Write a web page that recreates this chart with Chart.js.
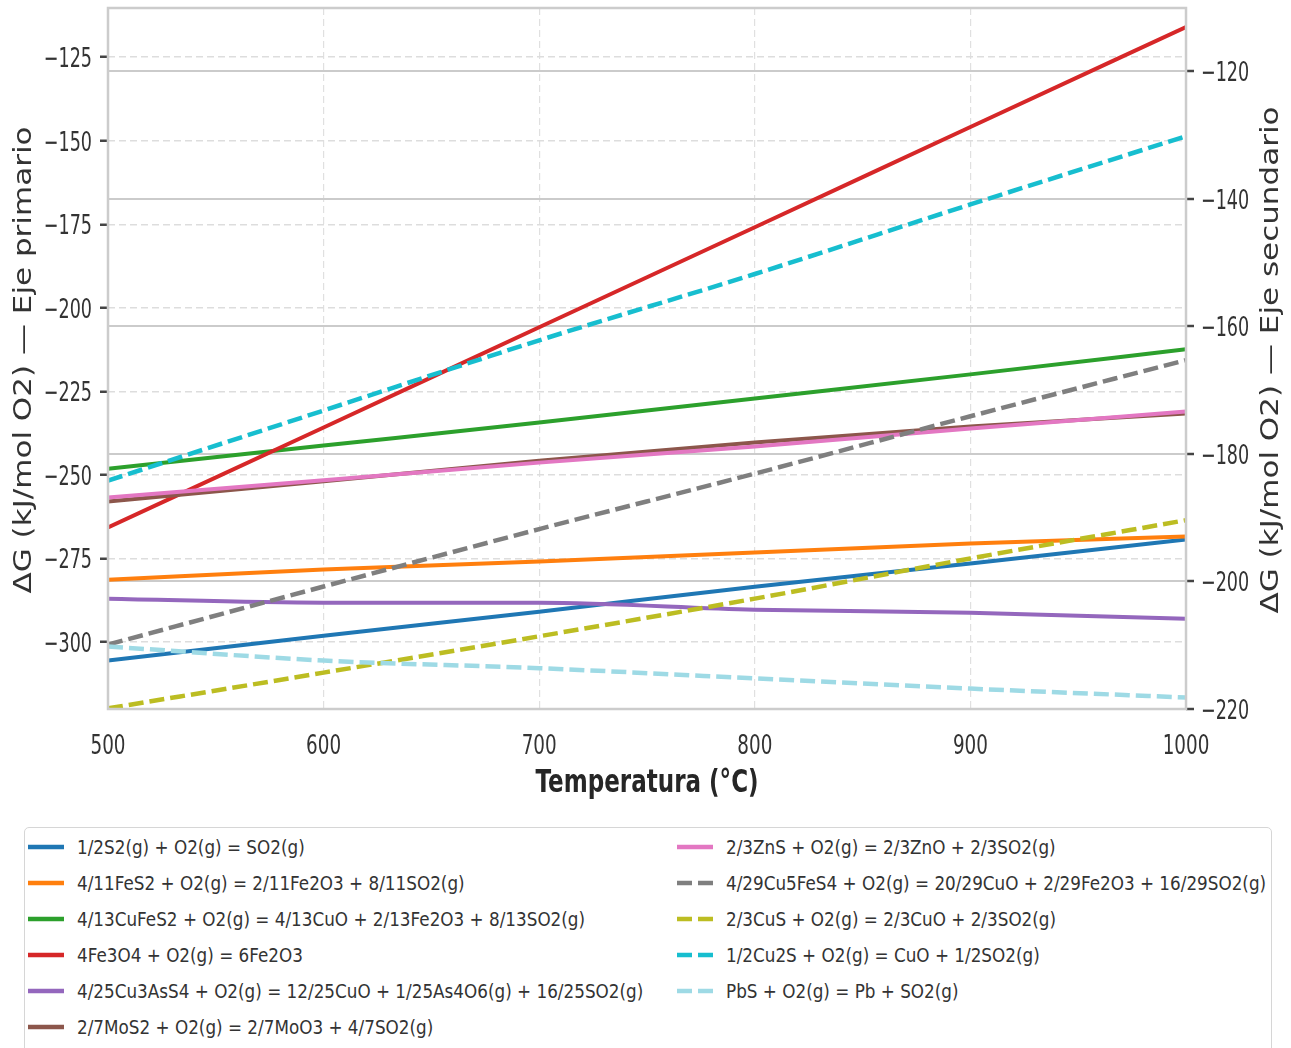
<!DOCTYPE html>
<html lang="es">
<head>
<meta charset="utf-8">
<title>ΔG vs Temperatura</title>
<script src="https://cdn.jsdelivr.net/npm/chart.js@4.4.1/dist/chart.umd.min.js"></script>
<style>
  html, body { margin: 0; padding: 0; background: #fff; }
  #wrap { position: relative; width: 1291px; height: 1048px; overflow: hidden; }
  #myChart { position: absolute; left: 0; top: 0; }
  #legendBox { position: absolute; left: 24px; top: 827px; width: 1248px; height: 300px;
    border: 1.5px solid #d6d6d6; border-radius: 5px; box-sizing: border-box; }
  .item { position: absolute; height: 36px; display: flex; align-items: center;
    font-family: "DejaVu Sans"; font-size: 20px; color: #333; white-space: nowrap; }
  .item svg { flex: none; }
  .item span { margin-left: 13px; display: inline-block; transform: scaleX(0.84); transform-origin: left center; }
</style>
</head>
<body>
<div id="wrap">
  <canvas id="myChart" width="1291" height="815"></canvas>
  <div id="legendBox"></div>
</div>
<script>
// temperatura (°C)
const temperaturas = [500, 600, 700, 800, 900, 1000];
const ticksX = [500, 600, 700, 800, 900, 1000];
const ticksPrim = [-300, -275, -250, -225, -200, -175, -150, -125];
const ticksSec = [-220, -200, -180, -160, -140, -120];

const reacciones = [
  '1/2S2(g) + O2(g) = SO2(g)',
  '4/11FeS2 + O2(g) = 2/11Fe2O3 + 8/11SO2(g)',
  '4/13CuFeS2 + O2(g) = 4/13CuO + 2/13Fe2O3 + 8/13SO2(g)',
  '4Fe3O4 + O2(g) = 6Fe2O3',
  '4/25Cu3AsS4 + O2(g) = 12/25CuO + 1/25As4O6(g) + 16/25SO2(g)',
  '2/7MoS2 + O2(g) = 2/7MoO3 + 4/7SO2(g)',
  '2/3ZnS + O2(g) = 2/3ZnO + 2/3SO2(g)',
  '4/29Cu5FeS4 + O2(g) = 20/29CuO + 2/29Fe2O3 + 16/29SO2(g)',
  '2/3CuS + O2(g) = 2/3CuO + 2/3SO2(g)',
  '1/2Cu2S + O2(g) = CuO + 1/2SO2(g)',
  'PbS + O2(g) = Pb + SO2(g)'
];

// eje primario (kJ/mol O2)
const dgS2      = [-305.5, -298.1, -290.9, -283.4, -276.5, -269.3];
const dgFeS2    = [-281.3, -278.3, -275.9, -273.2, -270.5, -268.4];
const dgCuFeS2  = [-248.1, -241.2, -234.3, -227.1, -219.9, -212.4];
const dgFe3O4   = [-265.7, -235.8, -205.8, -175.9, -145.9, -116.0];
const dgCu3AsS4 = [-287.0, -288.2, -288.2, -290.3, -291.2, -293.0];
const dgMoS2    = [-257.9, -251.9, -245.7, -240.3, -235.5, -231.6];
const dgZnS     = [-256.7, -251.6, -246.3, -241.5, -236.1, -231.0];
// eje secundario (kJ/mol O2)
const dgCu5FeS4 = [-209.9, -200.8, -191.8, -183.1, -174.1, -165.3];
const dgCuS     = [-219.9, -214.3, -208.6, -202.7, -196.4, -190.4];
const dgCu2S    = [-184.2, -173.2, -162.2, -151.8, -140.9, -130.2];
const dgPbS     = [-210.2, -212.4, -213.6, -215.2, -216.8, -218.2];

const series = [dgS2, dgFeS2, dgCuFeS2, dgFe3O4, dgCu3AsS4, dgMoS2, dgZnS,
                dgCu5FeS4, dgCuS, dgCu2S, dgPbS];
const ejes = ['y', 'y', 'y', 'y', 'y', 'y', 'y', 'y2', 'y2', 'y2', 'y2'];
const colores = ['#1f77b4', '#ff7f0e', '#2ca02c', '#d62728', '#9467bd', '#8c564b',
                 '#e377c2', '#7f7f7f', '#bcbd22', '#17becf', '#9edae5'];
const DASH = [15, 6];

const datasets = series.map((vals, i) => ({
  label: reacciones[i],
  data: temperaturas.map((t, k) => ({ x: t, y: vals[k] })),
  yAxisID: ejes[i],
  borderColor: colores[i],
  borderWidth: ejes[i] === 'y2' ? 4.5 : 4,
  borderDash: ejes[i] === 'y2' ? DASH : [],
  pointRadius: 0,
  cubicInterpolationMode: 'monotone',
  fill: false,
  clip: 0,
  order: series.length - i
}));

const menos = v => String(v).replace('-', '\u2212');

function estrecho(ctx, text, x, y, sx, align) {
  ctx.save();
  ctx.translate(x, y);
  ctx.scale(sx, 1);
  ctx.textAlign = align;
  ctx.textBaseline = 'alphabetic';
  ctx.fillText(text, 0, 0);
  ctx.restore();
}

function vertical(ctx, text, x, y, sy) {
  ctx.save();
  ctx.translate(x, y);
  ctx.rotate(-Math.PI / 2);
  ctx.scale(1, sy);
  ctx.textAlign = 'center';
  ctx.textBaseline = 'alphabetic';
  ctx.fillText(text, 0, 0);
  ctx.restore();
}

// marco, etiquetas de ticks y titulos de ejes
const textos = {
  id: 'textos',
  afterDatasetsDraw(chart) {
    const { ctx, chartArea: a, scales } = chart;
    ctx.save();
    ctx.strokeStyle = '#cccccc';
    ctx.lineWidth = 2.5;
    ctx.strokeRect(a.left, a.top, a.right - a.left, a.bottom - a.top);

    ctx.fillStyle = '#333333';
    ctx.font = '27px "DejaVu Sans"';
    scales.y.ticks.forEach(t => {
      estrecho(ctx, menos(t.value), 92, scales.y.getPixelForValue(t.value) + 9.8, 0.65, 'right');
    });
    scales.y2.ticks.forEach(t => {
      estrecho(ctx, menos(t.value), 1201, scales.y2.getPixelForValue(t.value) + 9.8, 0.65, 'left');
    });
    scales.x.ticks.forEach(t => {
      estrecho(ctx, String(t.value), scales.x.getPixelForValue(t.value), 754, 0.68, 'center');
    });

    ctx.fillStyle = '#262626';
    ctx.font = 'bold 32px "DejaVu Sans"';
    estrecho(ctx, 'Temperatura (°C)', (a.left + a.right) / 2, 792, 0.72, 'center');

    ctx.fillStyle = '#333333';
    ctx.font = '31px "DejaVu Sans"';
    vertical(ctx, 'ΔG (kJ/mol O2) — Eje primario', 31, 360, 0.8);
    vertical(ctx, 'ΔG (kJ/mol O2) — Eje secundario', 1278, 360, 0.8);
    ctx.restore();
  }
};

const ctx = document.getElementById('myChart');

new Chart(ctx, {
  type: 'line',
  data: { datasets: datasets },
  options: {
    responsive: false,
    animation: false,
    layout: { padding: { top: 8, left: 0, right: 0, bottom: 0 } },
    plugins: { legend: { display: false }, tooltip: { enabled: false } },
    scales: {
      x: {
        type: 'linear',
        min: 500,
        max: 1000,
        afterBuildTicks: s => { s.ticks = ticksX.map(v => ({ value: v })); },
        afterFit: s => { s.height = 106; },
        ticks: { display: false },
        grid: { color: '#e0e0e0', lineWidth: 1.2, drawTicks: false },
        border: { display: false, dash: [7, 4] }
      },
      y: {
        position: 'left',
        min: -320,
        max: -110.3,
        afterBuildTicks: s => { s.ticks = ticksPrim.map(v => ({ value: v })); },
        afterFit: s => { s.width = 108; },
        ticks: { display: false },
        grid: { color: '#dddddd', lineWidth: 1.5, tickLength: 8, tickColor: '#444444', tickWidth: 2.5 },
        border: { display: false, dash: [7, 4] }
      },
      y2: {
        position: 'right',
        min: -220,
        max: -110.1,
        afterBuildTicks: s => { s.ticks = ticksSec.map(v => ({ value: v })); },
        afterFit: s => { s.width = 105; },
        ticks: { display: false },
        grid: { color: '#cbcbcb', lineWidth: 2, tickLength: 8, tickColor: '#444444', tickWidth: 2.5 },
        border: { display: false }
      }
    }
  },
  plugins: [textos]
});

// leyenda en dos columnas
const wrap = document.getElementById('wrap');
reacciones.forEach((txt, i) => {
  const col = i < 6 ? 0 : 1;
  const fila = i % 6;
  const el = document.createElement('div');
  el.className = 'item';
  el.style.left = (col === 0 ? 28 : 677) + 'px';
  el.style.top = (847 + 36 * fila - 18) + 'px';
  const dash = ejes[i] === 'y2' ? ' stroke-dasharray="15 6"' : '';
  el.innerHTML = '<svg width="36" height="8"><line x1="0" y1="4" x2="36" y2="4" stroke="' +
    colores[i] + '" stroke-width="4.5"' + dash + '/></svg><span>' + txt + '</span>';
  wrap.appendChild(el);
});
</script>
</body>
</html>
